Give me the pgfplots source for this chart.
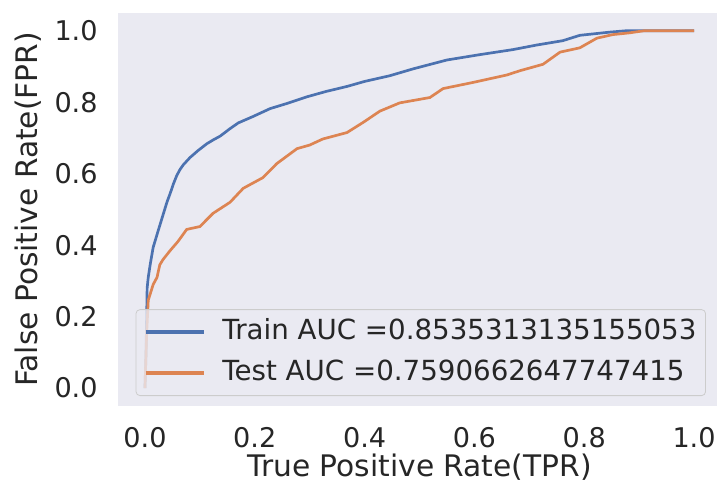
\documentclass[border=0pt]{standalone}
\usepackage{pgfplots}
\pgfplotsset{compat=1.18}
\usepackage{fontspec}
\setmainfont{DejaVu Sans}
\definecolor{sbblue}{HTML}{4C72B0}
\definecolor{sborange}{HTML}{DD8452}
\definecolor{sbbg}{HTML}{EAEAF2}
\definecolor{txt}{HTML}{262626}
\begin{document}
\begin{tikzpicture}
\useasboundingbox (0,0) rectangle (358.5bp,242bp);
\begin{axis}[
  at={(58.75bp,39bp)}, anchor=south west,
  scale only axis, width=302bp, height=196.6bp,
  xmin=-0.05, xmax=1.05, ymin=-0.05, ymax=1.05,
  axis background/.style={fill=sbbg},
  axis line style={draw=none},
  tick style={draw=none},
  major tick length=0pt,
  xtick={0,0.2,0.4,0.6,0.8,1.0},
  ytick={0,0.2,0.4,0.6,0.8,1.0},
  xticklabels={0.0,0.2,0.4,0.6,0.8,1.0},
  yticklabels={0.0,0.2,0.4,0.6,0.8,1.0},
  ticklabel style={font=\fontsize{13.6}{16}\selectfont, text=txt, inner sep=0pt},
  xticklabel style={anchor=base, yshift=-20.5bp},
  yticklabel style={anchor=east, xshift=-9.75bp},
  xlabel={True Positive Rate(TPR)},
  ylabel={False Positive Rate(FPR)},
  label style={font=\fontsize{14.9}{17}\selectfont, text=txt, inner sep=0pt},
  xlabel style={at={(axis description cs:0.5,-0.1781)}, anchor=base},
  ylabel style={at={(axis description cs:-0.1321,0.5)}, anchor=base},
  legend cell align=left,
  legend image code/.code={\draw[#1, line width=1.7pt, opacity=1] (-1bp,0bp) -- (28bp,0bp);},
  legend style={
    at={(rel axis cs:0.9743,0.0254)}, anchor=south east,
    fill=sbbg, fill opacity=0.8, text opacity=1, draw=black!20, rounded corners=2bp,
    inner xsep=4bp, inner ysep=1bp,
    font=\fontsize{13.9}{16}\selectfont, text=txt,
    column sep=8bp, row sep=0bp,
    nodes={inner xsep=0.5bp, inner ysep=3.75bp, text height=10bp, text depth=3bp},
  },
]
\addplot[color=sbblue, line width=1.35pt] coordinates {
(0,0) (0.002,0.10) (0.004,0.28) (0.006,0.31) (0.010,0.35) (0.015,0.394)
(0.024,0.44) (0.033,0.485) (0.040,0.52) (0.046,0.545) (0.052,0.572)
(0.058,0.595) (0.064,0.612) (0.070,0.625) (0.082,0.645) (0.097,0.665) (0.113,0.684)
(0.125,0.695) (0.137,0.705) (0.155,0.726) (0.170,0.742) (0.197,0.760)
(0.228,0.782) (0.260,0.797) (0.295,0.815) (0.330,0.830) (0.368,0.844)
(0.400,0.858) (0.446,0.874) (0.488,0.893) (0.550,0.918) (0.610,0.933)
(0.670,0.947) (0.714,0.960) (0.761,0.972) (0.792,0.987) (0.847,0.996)
(0.878,1.0) (1.0,1.0)
};
\addlegendentry{Train AUC =0.8535313135155053\hspace{3.5bp}}
\addplot[color=sborange, line width=1.35pt] coordinates {
(0,0) (0.003,0.15) (0.006,0.246) (0.015,0.29) (0.022,0.31) (0.027,0.345)
(0.033,0.36) (0.046,0.385) (0.060,0.41) (0.076,0.444) (0.100,0.452)
(0.124,0.489) (0.155,0.520) (0.179,0.559) (0.215,0.589) (0.240,0.628)
(0.277,0.670) (0.300,0.680) (0.324,0.697) (0.368,0.715) (0.397,0.743)
(0.428,0.775) (0.464,0.798) (0.519,0.813) (0.543,0.838) (0.597,0.855)
(0.659,0.876) (0.683,0.888) (0.725,0.906) (0.756,0.940) (0.792,0.952)
(0.823,0.979) (0.852,0.989) (0.883,0.994) (0.910,1.0) (1.0,1.0)
};
\addlegendentry{Test AUC =0.7590662647747415}
\end{axis}
\end{tikzpicture}
\end{document}
